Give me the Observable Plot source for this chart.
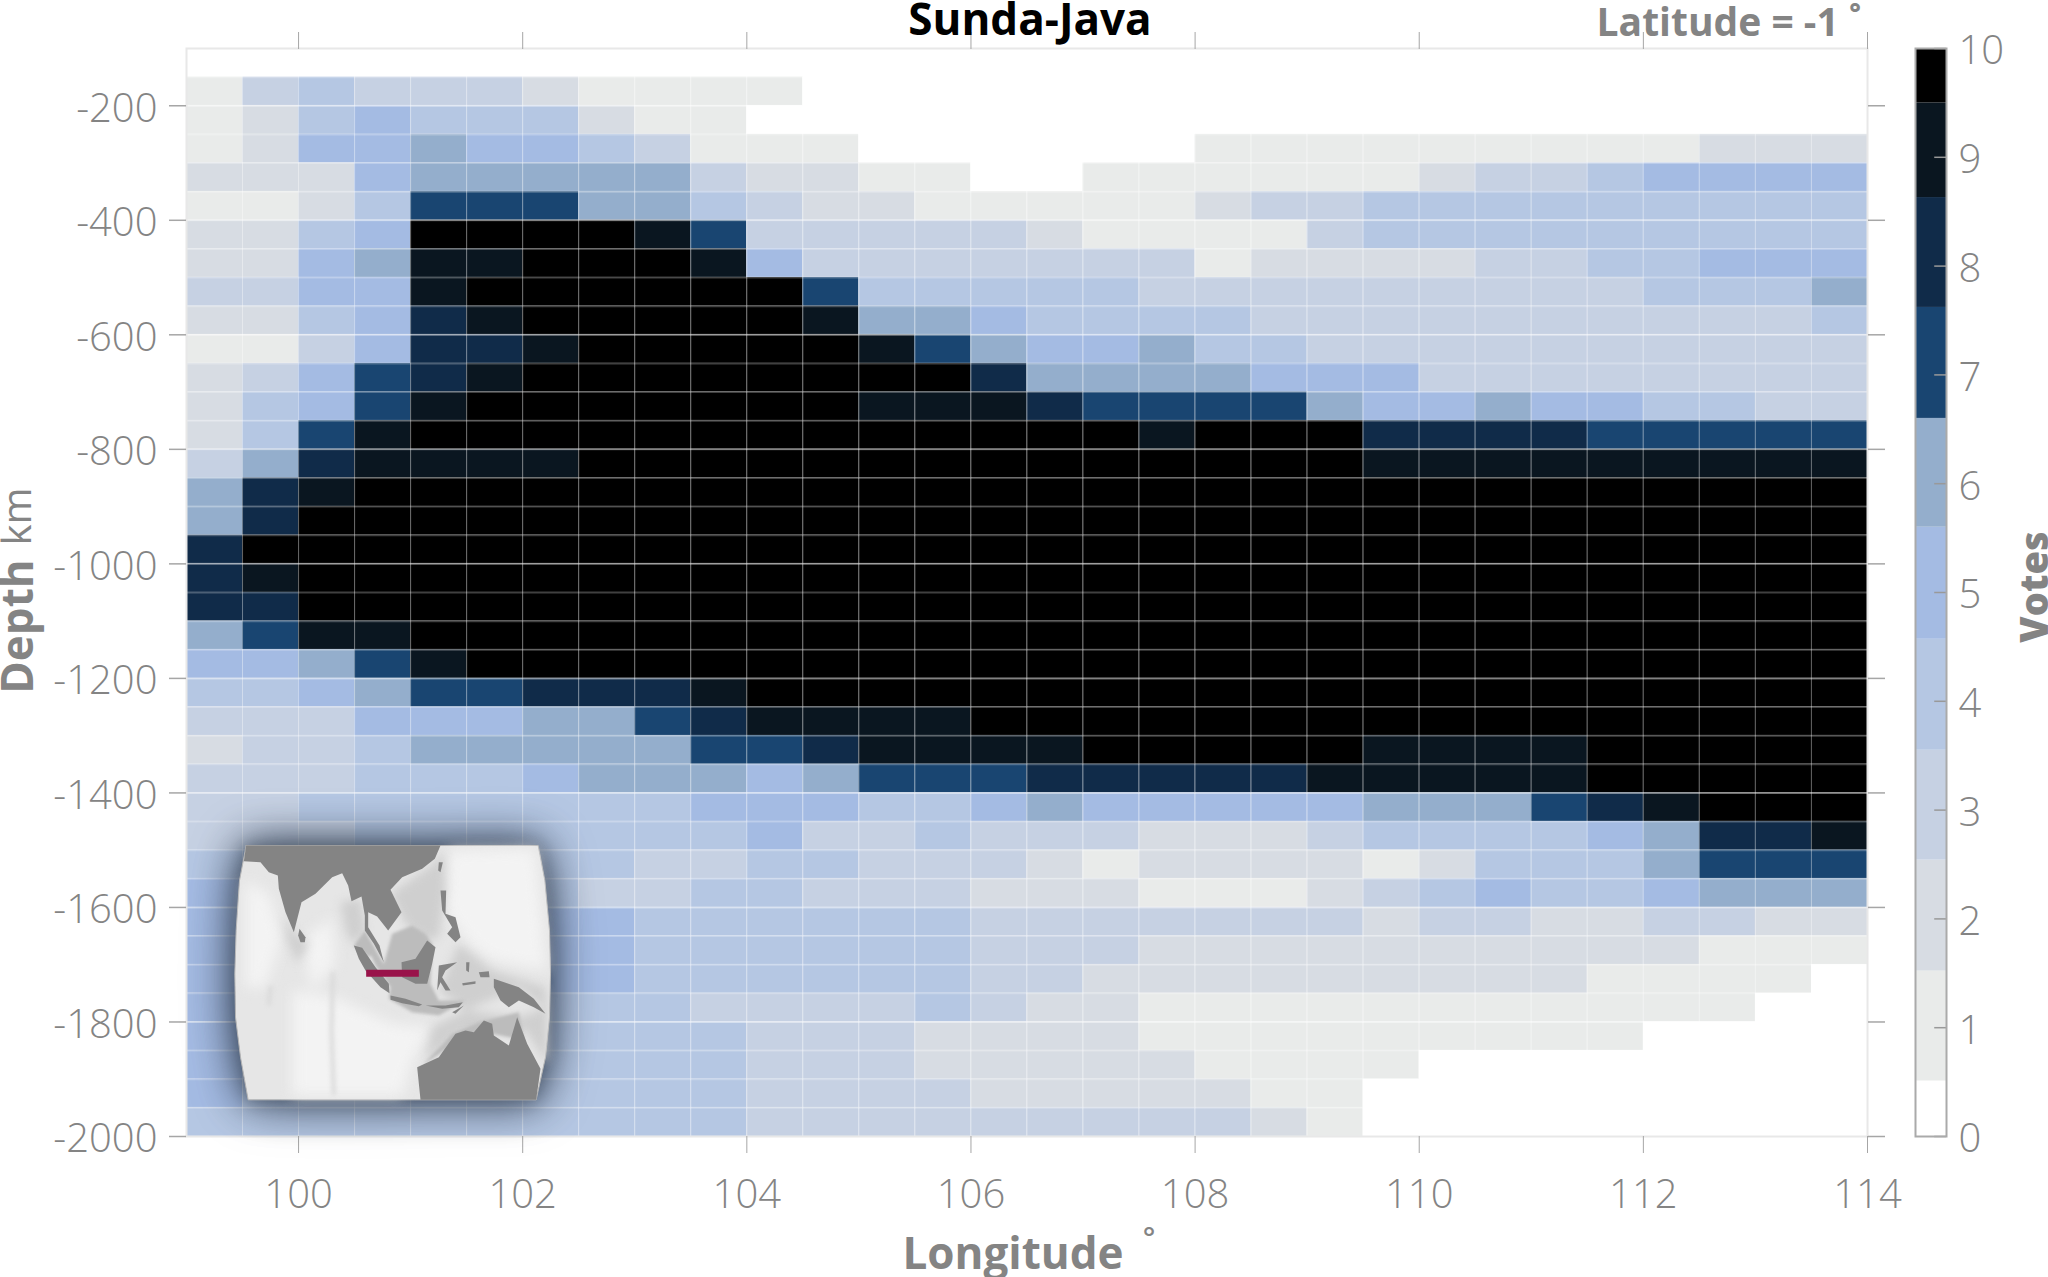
<!DOCTYPE html>
<html><head><meta charset="utf-8">
<style>html,body{margin:0;padding:0;background:#fff;width:2048px;height:1277px;overflow:hidden;position:relative}
#main,#bar,#inset{position:absolute}
#main{left:0;top:0}
#bar{left:1900px;top:0}
#inset{left:225px;top:830px;filter:drop-shadow(0 0 22px rgba(50,62,80,.95)) drop-shadow(0 0 8px rgba(50,62,80,.5))}
</style>
<script src="https://cdn.jsdelivr.net/npm/d3@7"></script>
<script src="https://cdn.jsdelivr.net/npm/@observablehq/plot@0.6"></script>
</head><body>
<div id="main"></div><div id="bar"></div><div id="inset"></div>
<script>
const longitudes = [99,99.5,100,100.5,101,101.5,102,102.5,103,103.5,104,104.5,105,105.5,106,106.5,107,107.5,108,108.5,109,109.5,110,110.5,111,111.5,112,112.5,113,113.5];
const depthTops = [-100,-150,-200,-250,-300,-350,-400,-450,-500,-550,-600,-650,-700,-750,-800,-850,-900,-950,-1000,-1050,-1100,-1150,-1200,-1250,-1300,-1350,-1400,-1450,-1500,-1550,-1600,-1650,-1700,-1750,-1800,-1850,-1900,-1950];
const votes = [
[0,0,0,0,0,0,0,0,0,0,0,0,0,0,0,0,0,0,0,0,0,0,0,0,0,0,0,0,0,0],
[1,3,4,3,3,3,2,1,1,1,1,0,0,0,0,0,0,0,0,0,0,0,0,0,0,0,0,0,0,0],
[1,2,4,5,4,4,4,2,1,1,0,0,0,0,0,0,0,0,0,0,0,0,0,0,0,0,0,0,0,0],
[1,2,5,5,6,5,5,4,3,1,1,1,0,0,0,0,0,0,1,1,1,1,1,1,1,1,1,2,2,2],
[2,2,2,5,6,6,6,6,6,3,2,2,1,1,0,0,1,1,1,1,1,1,2,3,3,4,5,5,5,5],
[1,1,2,4,7,7,7,6,6,4,3,2,2,1,1,1,1,1,2,3,3,4,4,4,4,4,4,4,4,4],
[2,2,4,5,10,10,10,10,9,7,3,3,3,3,3,2,1,1,1,1,3,4,4,4,4,4,4,4,4,4],
[2,2,5,6,9,9,10,10,10,9,5,3,3,3,3,3,3,3,1,2,2,2,2,3,3,4,4,5,5,5],
[3,3,5,5,9,10,10,10,10,10,10,7,4,4,4,4,4,3,3,3,3,3,3,3,3,3,4,4,4,6],
[2,2,4,5,8,9,10,10,10,10,10,9,6,6,5,4,4,4,4,3,3,3,3,3,3,3,3,3,3,4],
[1,1,3,5,8,8,9,10,10,10,10,10,9,7,6,5,5,6,4,4,3,3,3,3,3,3,3,3,3,3],
[2,3,5,7,8,9,10,10,10,10,10,10,10,10,8,6,6,6,6,5,5,5,3,3,3,3,3,3,3,3],
[2,4,5,7,9,10,10,10,10,10,10,10,9,9,9,8,7,7,7,7,6,5,5,6,5,5,4,4,3,3],
[2,4,7,9,10,10,10,10,10,10,10,10,10,10,10,10,10,9,10,10,10,8,8,8,8,7,7,7,7,7],
[3,6,8,9,9,9,9,10,10,10,10,10,10,10,10,10,10,10,10,10,10,9,9,9,9,9,9,9,9,9],
[6,8,9,10,10,10,10,10,10,10,10,10,10,10,10,10,10,10,10,10,10,10,10,10,10,10,10,10,10,10],
[6,8,10,10,10,10,10,10,10,10,10,10,10,10,10,10,10,10,10,10,10,10,10,10,10,10,10,10,10,10],
[8,10,10,10,10,10,10,10,10,10,10,10,10,10,10,10,10,10,10,10,10,10,10,10,10,10,10,10,10,10],
[8,9,10,10,10,10,10,10,10,10,10,10,10,10,10,10,10,10,10,10,10,10,10,10,10,10,10,10,10,10],
[8,8,10,10,10,10,10,10,10,10,10,10,10,10,10,10,10,10,10,10,10,10,10,10,10,10,10,10,10,10],
[6,7,9,9,10,10,10,10,10,10,10,10,10,10,10,10,10,10,10,10,10,10,10,10,10,10,10,10,10,10],
[5,5,6,7,9,10,10,10,10,10,10,10,10,10,10,10,10,10,10,10,10,10,10,10,10,10,10,10,10,10],
[4,4,5,6,7,7,8,8,8,9,10,10,10,10,10,10,10,10,10,10,10,10,10,10,10,10,10,10,10,10],
[3,3,3,5,5,5,6,6,7,8,9,9,9,9,10,10,10,10,10,10,10,10,10,10,10,10,10,10,10,10],
[2,3,3,4,6,6,6,6,6,7,7,8,9,9,9,9,10,10,10,10,10,9,9,9,9,10,10,10,10,10],
[3,3,3,4,4,4,5,6,6,6,5,6,7,7,7,8,8,8,8,8,9,9,9,9,9,10,10,10,10,10],
[3,3,4,4,4,4,4,4,4,5,5,5,4,4,5,6,5,5,5,5,5,6,6,6,7,8,9,10,10,10],
[3,3,3,4,4,4,4,4,4,4,5,3,3,4,3,3,3,2,2,2,3,4,4,4,4,5,6,8,8,9],
[4,4,4,4,4,4,4,4,3,3,4,4,3,3,3,2,1,2,2,2,2,1,2,4,4,4,6,7,7,7],
[5,4,4,4,4,4,4,3,3,4,4,3,3,3,2,2,2,1,1,1,2,3,4,5,4,4,5,6,6,6],
[5,5,5,5,5,5,5,5,4,4,4,4,4,4,3,3,3,3,3,3,3,2,3,3,2,2,3,3,2,2],
[5,5,5,5,5,5,5,5,4,4,4,4,4,4,3,3,3,2,2,2,2,2,2,2,2,2,2,1,1,1],
[5,5,5,5,5,5,5,5,4,4,4,4,4,4,3,3,2,2,2,2,2,2,2,2,2,1,1,1,1,0],
[5,4,4,4,4,4,4,4,4,3,3,3,3,4,3,2,2,1,1,1,1,1,1,1,1,1,1,1,0,0],
[5,4,4,4,4,4,4,4,4,4,3,3,3,2,2,2,2,1,1,1,1,1,1,1,1,1,0,0,0,0],
[5,4,4,4,4,4,4,4,4,4,3,3,3,2,2,2,2,2,1,1,1,1,0,0,0,0,0,0,0,0],
[5,4,4,4,4,4,4,4,4,4,3,3,3,3,2,2,2,2,2,1,1,0,0,0,0,0,0,0,0,0],
[4,4,4,4,4,4,4,4,4,4,3,3,3,3,3,3,3,3,3,2,1,0,0,0,0,0,0,0,0,0]
];
const bandEdges = [0,0.51,1.52,2.54,3.55,4.57,5.6,6.6,7.62,8.63,9.5,10];
const bandColors = ["#ffffff","#e9ebea","#d7dce3","#c6d1e3","#b5c7e3","#a4bbe3","#94aecc","#194571","#102b49","#0a1620","#000000"];
const xTicks = [100,102,104,106,108,110,112,114];
const yTicks = [-200,-400,-600,-800,-1000,-1200,-1400,-1600,-1800,-2000];
const barTicks = [0,1,2,3,4,5,6,7,8,9,10];
const lonLines = [99.5,100,100.5,101,101.5,102,102.5,103,103.5,104,104.5,105,105.5,106,106.5,107,107.5,108,108.5,109,109.5,110,110.5,111,111.5,112,112.5,113,113.5];
const depthLines = depthTops.slice(1);

/* inset map outlines, read in the inset picture's own units */
const barrel = [[62,45],[938,45],[958,150],[972,300],[975,430],[972,560],[960,680],[932,808],[68,808],[45,680],[30,560],[28,430],[32,300],[42,150]];
const brightWaters = {
  pacific:[[670,60],[930,55],[962,420],[800,390],[730,340],[660,240]],
  indian:[[200,480],[330,500],[500,580],[620,590],[560,690],[530,795],[200,795]],
  west:[[60,150],[130,190],[170,320],[120,470],[60,470]],
  central:[[230,330],[320,260],[330,400],[260,480]]
};
const midWaters = {
  bengal:[[345,215],[405,205],[420,300],[385,345],[360,300]],
  china:[[495,190],[625,100],[655,60],[660,180],[640,320],[600,330],[540,280]],
  banda:[[700,340],[800,420],[960,470],[965,540],[880,470],[720,540],[640,480]],
  timor:[[620,590],[720,540],[880,560],[965,530],[965,700],[900,600],[700,610],[600,690]],
  ceylon:[[175,250],[210,310],[250,340],[215,400],[185,330]]
};
const shelves = {
  sunda:[[418,300],[475,400],[500,310],[560,285],[600,310],[620,340],[615,460],[640,510],[720,510],[640,555],[560,545],[490,505],[495,470],[450,405],[420,340]],
  sahul:[[590,705],[680,610],[760,575],[880,545],[895,630],[760,600],[700,630]],
  malacca:[[385,345],[418,300],[450,360],[430,380]]
};
const ridges = {
  ninetyEast:[[322,430],[318,600],[325,790]],
  chagos:[[135,470],[130,520]]
};
const land = {
  asia:[[62,45],[55,92],[105,95],[130,125],[157,135],[160,175],[180,245],[205,305],[228,215],[270,190],[320,140],[350,128],[368,165],[378,212],[408,198],[418,255],[418,300],[445,340],[475,395],[462,345],[428,290],[428,245],[455,258],[488,300],[528,245],[495,178],[530,140],[590,115],[628,85],[645,45]],
  taiwan:[[640,95],[652,95],[645,125],[638,120]],
  lanka:[[222,295],[240,320],[238,335],[225,335],[218,315]],
  sumatra:[[385,345],[410,352],[450,410],[490,460],[492,488],[465,470],[420,420],[400,385]],
  java:[[495,495],[540,505],[590,522],[580,527],[530,518],[495,508]],
  sunda:[[600,525],[660,525],[712,515],[700,530],[650,535]],
  borneo:[[528,395],[570,385],[605,330],[630,350],[620,400],[605,460],[570,460],[530,440]],
  sulawesi:[[640,405],[695,395],[660,420],[650,440],[675,480],[660,480],[645,455],[635,480]],
  philippines:[[645,180],[662,180],[660,250],[690,260],[705,320],[690,335],[665,310],[680,290],[650,240]],
  halmahera:[[722,395],[732,395],[730,425],[722,420]],
  seram:[[710,458],[750,452],[750,460],[712,465]],
  ceram2:[[760,425],[790,422],[792,440],[765,440]],
  timor:[[680,545],[715,525],[690,550]],
  guinea:[[805,445],[880,470],[925,505],[960,550],[925,530],[880,510],[850,530],[825,510],[805,470]],
  australia:[[575,710],[640,680],[690,610],[720,600],[745,605],[775,570],[800,580],[805,615],[850,645],[875,560],[905,640],[945,715],[932,808],[585,808]]
};
const trench = [[422,428],[580,428]];

const cells = depthTops.flatMap((d,i)=>longitudes.map((lon,j)=>({lon,d,v:votes[i][j]})));
const colorScale = {type:"threshold",domain:bandEdges.slice(1,-1),range:bandColors};
const gray = "#848484", tickGray = "#a6a6a6";
const oneRow = [0];

const main = Plot.plot({
  width:2048,height:1277,marginLeft:186,marginRight:181,marginTop:48,marginBottom:141,
  style:{fontFamily:"'Open Sans'",background:"transparent",overflow:"visible"},
  x:{domain:[99,114]},y:{domain:[-2000,-100]},
  color:colorScale,
  marks:[
    Plot.rect(cells,{x1:"lon",x2:d=>d.lon+0.5,y1:"d",y2:d=>d.d-50,fill:"v"}),
    Plot.ruleX(lonLines,{stroke:"#fff",strokeOpacity:0.38,strokeWidth:1}),
    Plot.ruleY(depthLines,{stroke:"#fff",strokeOpacity:0.25,strokeWidth:2}),
    Plot.ruleY(yTicks,{stroke:"#fff",strokeOpacity:0.35,strokeWidth:1.5}),
    Plot.frame({stroke:"#e8e8e8",strokeWidth:2}),
    Plot.axisX(xTicks,{anchor:"bottom",label:null,tickSize:17,tickFormat:()=>"",fontSize:0,stroke:tickGray}),
    Plot.axisX(xTicks,{anchor:"bottom",label:null,tickSize:0,tickPadding:43,fontSize:40,fontWeight:300,fill:gray,tickFormat:d=>String(d)}),
    Plot.axisX(xTicks,{anchor:"top",label:null,tickSize:17,tickFormat:()=>"",fontSize:0,stroke:tickGray}),
    Plot.axisY(yTicks,{anchor:"left",label:null,tickSize:17,tickFormat:()=>"",fontSize:0,stroke:tickGray,strokeWidth:1.5}),
    Plot.axisY(yTicks,{anchor:"left",label:null,tickSize:0,tickPadding:29,dy:3,fontSize:40,fontWeight:300,fill:gray,tickFormat:d=>String(d)}),
    Plot.axisY(yTicks,{anchor:"right",label:null,tickSize:17,tickFormat:()=>"",fontSize:0,stroke:tickGray,strokeWidth:1.5}),
    Plot.text(oneRow,{text:()=>"Sunda-Java",frameAnchor:"top",dx:3,dy:-28,fontSize:44,fontWeight:700,fill:"#000",lineAnchor:"middle"}),
    Plot.text(oneRow,{text:()=>"Latitude = -1 ˚",frameAnchor:"top-right",dx:-6,dy:-25,fontSize:39,fontWeight:700,fill:gray,textAnchor:"end",lineAnchor:"middle"}),
    Plot.text(oneRow,{text:()=>"Longitude",frameAnchor:"bottom",dx:-14,dy:118,fontSize:44,fontWeight:700,fill:gray,lineAnchor:"middle"}),
    Plot.text(oneRow,{text:()=>"˚",frameAnchor:"bottom",dx:122,dy:112,fontSize:44,fontWeight:400,fill:gray,lineAnchor:"middle"}),
    Plot.text(oneRow,{text:()=>"Depth",frameAnchor:"left",textAnchor:"middle",dx:-168,dy:34,rotate:-90,fontSize:44,fontWeight:700,fill:gray,lineAnchor:"middle"}),
    Plot.text(oneRow,{text:()=>"km",frameAnchor:"left",textAnchor:"middle",dx:-168,dy:-76,rotate:-90,fontSize:40,fontWeight:400,fill:gray,lineAnchor:"middle"})
  ]
});
document.getElementById("main").append(main);

const bands = bandColors.map((c,i)=>({c,y1:bandEdges[i],y2:bandEdges[i+1]}));
const bar = Plot.plot({
  width:148,height:1277,marginLeft:15,marginRight:102,marginTop:48,marginBottom:141,
  style:{fontFamily:"'Open Sans'",background:"transparent",overflow:"visible"},
  x:{domain:[0,1],axis:null},y:{domain:[0,10]},
  marks:[
    Plot.rect(bands,{x1:0,x2:1,y1:"y1",y2:"y2",fill:"c"}),
    Plot.ruleY(barTicks,{x1:0.62,x2:1,stroke:"#999",strokeWidth:1.5}),
    Plot.frame({stroke:"#aaa",strokeWidth:2}),
    Plot.axisY(barTicks,{anchor:"right",label:null,tickSize:0,tickPadding:12,dy:3,fontSize:40,fontWeight:300,fill:gray,tickFormat:d=>String(d)}),
    Plot.text(oneRow,{text:()=>"Votes",frameAnchor:"right",textAnchor:"middle",dx:89,y:()=>5.05,rotate:-90,fontSize:38,fontWeight:800,fill:gray,lineAnchor:"middle"})
  ]
});
document.getElementById("bar").append(bar);

const xy = o => Object.entries(o).flatMap(([name,pts])=>[...pts,pts[0]].map(([x,y])=>({name,x,y})));
const open = o => Object.entries(o).flatMap(([name,pts])=>pts.map(([x,y])=>({name,x,y})));
const closed = pts => [...pts,pts[0]].map(([x,y])=>({x,y}));
const inset = Plot.plot({
  width:350,height:290,margin:0,
  style:{background:"transparent",overflow:"visible"},
  x:{domain:[0,1050],axis:null},y:{domain:[870,0],axis:null},
  marks:[
    Plot.line(closed(barrel),{x:"x",y:"y",fill:"#e6e6e6",stroke:"#b5b5b5",strokeWidth:1}),
    Plot.line(xy(brightWaters),{x:"x",y:"y",z:"name",fill:"#f3f3f3",stroke:"none",imageFilter:"blur(7px)"}),
    Plot.line(open(ridges),{x:"x",y:"y",z:"name",stroke:"#dadada",strokeWidth:4,imageFilter:"blur(2px)"}),
    Plot.line(xy(midWaters),{x:"x",y:"y",z:"name",fill:"#cfcfcf",stroke:"none",imageFilter:"blur(5px)"}),
    Plot.line(xy(shelves),{x:"x",y:"y",z:"name",fill:"#bcbcbc",stroke:"none",imageFilter:"blur(1.5px)"}),
    Plot.line(xy(land),{x:"x",y:"y",z:"name",fill:"#848484",stroke:"none"}),
    Plot.line(trench.map(([x,y])=>({x,y})),{x:"x",y:"y",stroke:"#99134a",strokeWidth:7,strokeLinecap:"butt"})
  ]
});
document.getElementById("inset").append(inset);
</script>
</body></html>
